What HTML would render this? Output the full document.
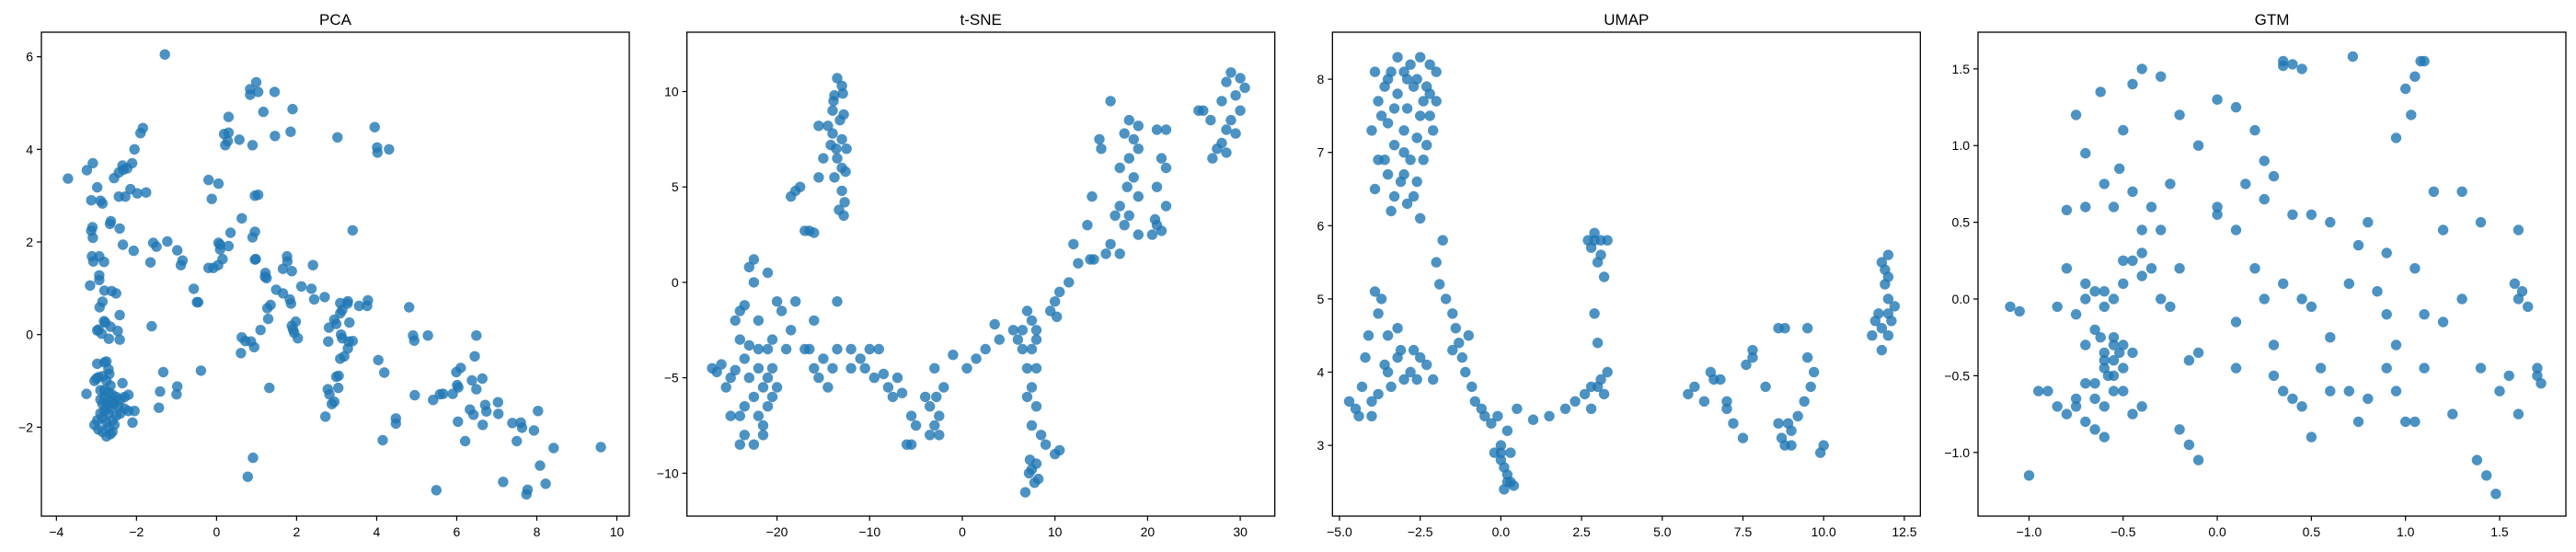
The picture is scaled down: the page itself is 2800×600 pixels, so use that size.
<!DOCTYPE html>
<html>
<head>
<meta charset="utf-8">
<style>
  html, body { margin: 0; padding: 0; background: #fff; }
  svg { display: block; font-family: "Liberation Sans", "DejaVu Sans", sans-serif; }
</style>
</head>
<body>
<svg id="fig" width="2800" height="600" viewBox="0 0 2800 600" xmlns="http://www.w3.org/2000/svg"></svg>
<script>
// ---------- data ----------
const panelTitles = ["PCA", "t-SNE", "UMAP", "GTM"];

const pcaX = [-1.29,0.99,0.84,0.84,1.04,1.45,1.9,1.17,0.3,0.19,0.3,0.22,0.28,0.57,0.9,1.46,1.85,3.02,3.95,4.01,4.02,4.31,-3.71,-3.24,-3.09,-2.98,-3.13,-2.9,-2.85,-2.56,-2.44,-2.35,-2.33,-2.23,-2.11,-2.05,-1.9,-1.84,-2.44,-2.28,-2.15,-1.98,-1.76,-0.2,0.05,-0.12,0.63,0.96,1.04,0.35,0.96,0.9,3.4,-3.13,-3.1,-3.09,-2.64,-2.66,-2.42,-2.34,-2.07,-3.11,-2.93,-3.08,-2.81,-3.16,-2.93,-2.93,-1.58,-1.5,-1.23,-0.98,-0.85,-0.89,-1.65,0.09,0.09,0.05,0.3,0.15,0.04,-0.2,-0.08,0.96,0.98,1.22,1.25,1.21,1.76,1.77,1.66,1.88,2.41,-0.57,-0.46,-0.49,1.49,1.66,1.83,1.86,2.12,2.37,2.44,2.7,1.27,1.35,1.29,1.1,1.88,1.91,1.94,1.98,2.03,2.94,2.99,2.81,3.09,3.14,3.28,3.27,3.32,3.09,3.56,3.78,3.76,3.11,3.14,3.3,3.4,3.28,3.09,3.19,2.79,4.81,4.91,4.94,5.28,6.49,6.45,0.63,0.72,0.86,0.94,0.61,-1.62,-2.42,-2.95,-2.98,-2.81,-2.78,-2.65,-2.47,-2.42,-2.69,-2.87,-2.8,-2.62,-2.51,-2.85,-2.92,4.04,4.19,-0.39,-1.33,-0.98,-1.0,-1.41,-1.44,1.32,2.99,3.05,3.04,2.78,2.82,2.88,2.94,2.72,4.48,4.48,4.15,4.95,5.99,6.1,6.01,6.04,6.38,6.49,6.64,5.41,5.58,5.66,5.9,6.33,6.42,6.03,6.65,6.71,6.74,7.03,7.04,6.21,7.39,7.6,7.63,7.5,7.93,8.03,8.42,9.6,8.08,7.16,5.49,7.77,7.74,8.22,0.91,0.78,-3.25,-3.0,-2.95,-3.05,-2.8,-2.75,-2.7,-2.68,-2.98,-2.85,-2.75,-2.65,-2.8,-2.7,-2.6,-2.5,-2.4,-2.3,-2.2,-2.35,-2.9,-2.85,-2.75,-2.65,-2.55,-2.45,-2.3,-2.2,-2.05,-2.1,-2.4,-2.55,-2.6,-2.65,-2.75,-2.85,-2.95,-3.05,-2.98,-2.85,-2.75,-2.7,-2.8,-2.9,-2.7,-2.6,-2.5,-2.8,-2.9,-2.7,-2.6];
const pcaY = [6.05,5.45,5.3,5.18,5.24,5.24,4.87,4.81,4.7,4.33,4.36,4.09,4.18,4.21,4.09,4.29,4.38,4.26,4.48,4.04,3.93,4.0,3.37,3.55,3.7,3.18,2.9,2.89,2.83,3.38,3.5,3.65,3.56,3.59,3.7,4.0,4.35,4.46,2.98,2.98,3.14,3.05,3.07,3.34,3.26,2.93,2.51,3.0,3.02,2.2,2.22,2.1,2.25,2.24,2.32,2.09,2.45,2.39,2.29,1.94,1.81,1.69,1.69,1.58,1.57,1.06,1.28,1.18,1.98,1.9,2.01,1.82,1.6,1.5,1.56,1.94,1.84,1.98,1.91,1.63,1.5,1.44,1.44,1.62,1.63,1.33,1.22,1.25,1.69,1.58,1.42,1.37,1.5,0.99,0.7,0.7,0.97,0.89,0.76,0.67,1.04,0.99,0.76,0.81,0.57,0.64,0.34,0.1,0.19,0.11,0.04,0.28,-0.08,0.32,0.23,0.15,0.46,0.53,0.72,0.67,0.26,0.68,0.62,0.74,0.62,0,-0.08,-0.15,-0.14,-0.3,-0.52,-0.47,-0.15,0.59,-0.02,-0.13,-0.02,-0.02,-0.47,-0.06,-0.14,-0.15,-0.27,-0.4,0.18,0.42,0.11,0.09,0.29,0.26,0.17,0.08,-0.11,-0.09,0.02,0.95,0.94,0.89,0.71,0.59,-0.55,-0.82,-0.78,-0.81,-1.12,-1.29,-1.23,-1.58,-1.15,-0.91,-0.89,-1.15,-1.18,-1.29,-1.5,-1.45,-1.77,-1.81,-1.92,-2.28,-1.31,-0.81,-0.72,-1.09,-1.14,-0.99,-1.18,-0.95,-1.41,-1.29,-1.28,-1.28,-1.62,-1.73,-1.88,-1.95,-1.52,-1.66,-1.46,-1.71,-2.3,-1.91,-1.9,-2.01,-2.3,-2.07,-1.65,-2.45,-2.43,-2.83,-3.18,-3.36,-3.35,-3.45,-3.22,-2.66,-3.07,-1.28,-0.95,-0.92,-1.0,-0.6,-0.58,-0.75,-0.85,-0.63,-0.9,-1.0,-1.1,-1.2,-1.25,-1.3,-1.35,-1.4,-1.35,-1.3,-1.05,-1.4,-1.5,-1.55,-1.6,-1.5,-1.55,-1.6,-1.65,-1.65,-1.9,-1.7,-1.95,-2.1,-2.15,-2.2,-2.1,-2.05,-1.95,-1.85,-1.8,-1.9,-1.7,-1.65,-1.7,-2.0,-1.85,-1.75,-1.35,-1.2,-1.45,-1.45];

const tsneX = [-13.5,-13,-13.8,-14,-13.2,-12.8,-14.5,-14,-13,-12.5,-13.5,-13,-12.6,-13.8,-13,-12.7,-13.3,-12.8,-14.2,-13.6,-13.9,-12.9,-15.5,-15,-15.5,-16,-16.5,-17,-18.5,-18,-17.5,29,30,28.5,30.5,29.5,28,30,29,28.5,29.5,28,27.5,28.5,27,26,25.5,26.8,18,19,18.5,17.5,16,19,18,17,18.5,17.8,19,17,18,16.5,17.5,19,16,15.5,21,22,21.5,21,22,21,20.5,21.5,20.8,22,15,14.8,14,13.5,12,12.5,11.5,10.5,10,9.5,10.2,13.8,14.2,17,7.5,8,7,6.5,8,7.5,6,5.5,6.5,7,8,7.5,3.5,4,2.5,1.5,0.5,-1,-3,-2,-3.5,-4,-2.5,-3,-2.5,-3.5,-5.5,-6,-5,-5.5,-2.8,7,8,7.5,8.5,8,7.5,8.2,7.8,7.2,6.8,9,10,10.5,7.3,-13.5,-13.5,-12,-11,-10,-9,-10.5,-12,-9.5,-8.5,-8,-7,-6.5,-7.5,-14,-15,-15.5,-16,-14.5,-16.5,-17,-19,-18.5,-19.5,-18,-16,-27,-26.5,-26,-25,-24.5,-25.5,-24,-24.5,-24,-23.5,-22.5,-23,-22.5,-21,-20,-20.5,-21,-22,-23,-22,-23,-21.5,-22.5,-21,-23.5,-22,-24,-23.5,-22.5,-21.5,-24,-20.5,-20,-21,-23.5,-22,-25,-21.5,-20.5];
const tsneY = [10.7,10.3,9.8,9,8.5,8.8,8.2,7.8,7.5,7,6.5,6,5.8,5.5,4.8,4.2,3.8,3.5,7.2,7,9.5,9.9,8.2,6.5,5.5,2.6,2.7,2.7,4.5,4.8,5,11,10.7,10.5,10.2,9.8,9.5,9,8.5,8,7.8,7.3,7,6.8,6.5,9,9,8.5,8.5,8.2,7.5,7.8,9.5,7,6.5,6,5.5,5,4.5,4,3.5,3.5,3,2.5,2,1.5,8,8,6.5,5,4,3,2.5,2.7,3.3,6,7,7.5,4.5,3,2,1,0,-0.5,-1,-1.5,-1.8,1.2,1.2,1.5,-2,-2.5,-1.5,-2.5,-3,-3.5,-3,-2.5,-3.5,-4.5,-4.5,-5.5,-2.2,-3,-3.5,-4,-4.5,-3.8,-4.5,-5.5,-6.5,-6,-7,-7.5,-8,-8,-8.5,-8.5,-7.5,-7,-6,-6,-6.5,-7.5,-8,-9.5,-9.8,-10.3,-10.5,-10,-11,-8.5,-9,-8.8,-9.3,-1,-3.5,-3.5,-4,-3.5,-3.5,-4.5,-4.5,-5,-4.8,-5.5,-5,-5.8,-6,-4.5,-4,-5,-4.5,-5.5,-3.5,-3.5,-3.5,-2.5,-1.5,-1,-2,-4.5,-4.7,-4.3,-5,-4.6,-5.5,-3,-2,-1.5,-1.2,0,0.8,1.2,0.5,-1,-3,-3.5,-3.5,-3.3,-4.5,-5,-5.5,-6,-6.5,-6.5,-7,-7,-8,-8.5,-8,-8.5,-4.5,-5.5,-5,-4,-2,-7,-7.5,-6];

const umapX = [-2.5,-2.2,-3,-3.5,-2,-2.7,-3.2,-3.8,-2.4,-2.9,-2.2,-3.5,-3,-4,-2.6,-2.1,-3.3,-3.8,-2.8,-2.4,-3.5,-3.1,-2.6,-3.9,-3.3,-2.7,-3.4,-2.5,-3.0,-2.3,-3.6,-3.9,-2.0,-3.2,-2.8,-1.8,-2,-1.9,-1.7,-1.5,-1.4,-1.3,-1.2,-1.1,-0.9,-0.8,-0.6,-0.5,-1.5,-1.0,-0.1,0,-0.2,0.1,0.2,0.3,0.1,0.4,0,0.3,0.5,0.2,-4.5,-4.7,-4.3,-4.0,-3.8,-3.5,-3.2,-2.8,-2.5,-3.5,-3.2,-3.8,-3.9,-4.2,-4.0,-3.0,-2.6,-2.3,-2.1,-3.4,1,1.5,2,2.3,2.6,3,3.2,2.8,3.3,3.0,2.9,3.2,3.0,2.7,2.9,3.3,2.8,3.1,5.8,6.0,6.5,6.3,7,7.2,7.5,7.8,7.6,8.2,8.6,8.8,9.5,8.6,8.8,9,9.4,9.6,9.5,10,9.9,8.7,7.0,6.8,9.2,11.5,11.7,12,12,11.8,12,11.8,12,12.2,11.9,11.6,12.1,-3.7,-2.9,-2.5,-3.3,-2.3,-3.6,-3.0,-2.9,-2.6,-3.4,-2.2,-4.4,-3.6,-3.1,-2.7,-4.1,-3.7,2.9,3.1,2.8,3.1,6.6,7.8,8.9,9.7,9.0,11.8,12.0,11.9,0.2,0.0,-0.3];
const umapY = [8.3,8.2,8.1,8,8.1,7.9,7.8,7.7,7.7,7.6,7.5,7.4,7.3,7.3,7.2,7.3,7.1,6.9,6.9,6.9,6.7,6.6,6.6,6.5,6.4,6.4,6.2,6.1,7.0,7.9,7.9,8.1,7.7,8.3,8.2,5.8,5.5,5.2,5.0,4.8,4.6,4.4,4.2,4.0,3.8,3.6,3.5,3.4,4.3,4.5,3.4,3.0,2.9,2.7,2.6,2.5,2.4,2.45,2.8,2.9,3.5,3.2,3.5,3.6,3.8,3.6,3.7,4.0,4.2,4.0,4.2,4.5,4.6,4.8,5.1,4.2,3.4,3.9,3.9,4.1,3.9,3.8,3.35,3.4,3.5,3.6,3.7,3.8,3.7,3.5,4.0,4.4,4.8,5.3,5.5,5.8,5.8,5.8,5.7,5.6,3.7,3.8,4.0,3.6,3.6,3.3,3.1,4.2,4.1,3.8,4.6,4.6,4.6,3.3,3.0,3.2,3.6,3.8,4.2,3,2.9,3.1,3.5,3.9,3.4,4.5,4.8,5.0,5.3,5.5,5.6,4.3,4.5,4.9,5.2,4.7,4.7,7.5,8.0,7.5,7.6,7.1,6.9,6.7,6.3,8.0,8.1,7.8,3.4,4.1,4.3,4.3,4.5,5.0,5.9,5.8,3.8,3.9,3.9,4.3,3.3,4.0,3.0,4.6,4.8,5.4,2.5,2.9,3.3];

const gtmX = [-0.75,-0.62,-0.5,-0.45,-0.4,-0.3,-0.2,-0.1,0.0,0.1,0.2,0.25,0.35,0.4,0.45,0.72,0.95,1.0,1.05,1.08,1.03,-0.7,-0.6,-0.52,-0.45,-0.55,-0.8,-0.7,-0.35,-0.3,-0.4,-0.25,0.0,0.1,0.15,0.3,0.25,0.4,0.5,0.6,0.75,0.8,0.9,1.15,1.3,1.4,1.6,1.2,-0.8,-0.7,-0.65,-0.6,-0.55,-0.5,-0.45,-0.4,-0.35,-0.3,-0.2,-0.25,-1.1,-1.05,-0.75,-0.85,0.2,0.25,0.35,0.45,0.5,0.7,0.85,0.9,1.05,1.1,1.2,1.3,1.58,1.62,1.65,1.6,0.1,-0.1,-0.15,-0.7,-0.65,-0.6,-0.55,-0.6,-0.55,-0.7,-0.65,-0.6,-0.75,-0.8,-0.9,-0.95,-0.85,-0.5,-0.45,-0.4,-0.7,-0.6,-0.65,-1.0,-0.2,-0.15,-0.1,0.1,0.3,0.35,0.4,0.45,0.5,0.55,0.6,0.7,0.75,0.8,0.9,0.95,1.0,1.05,1.1,1.25,1.4,1.5,1.55,1.6,1.7,1.72,1.7,1.38,1.43,1.48,0.95,0.6,0.3,-0.5,-0.55,-0.55,-0.6,-0.5,-0.58,-0.62,-0.52,-0.7,-0.6,-0.55,-0.65,-0.75,-0.45,-0.5,-0.4,0.35,1.1,0.0];
const gtmY = [1.2,1.35,1.1,1.4,1.5,1.45,1.2,1.0,1.3,1.25,1.1,0.9,1.55,1.53,1.5,1.58,1.05,1.37,1.45,1.55,1.2,0.95,0.75,0.85,0.7,0.6,0.58,0.6,0.6,0.45,0.45,0.75,0.6,0.45,0.75,0.8,0.65,0.55,0.55,0.5,0.35,0.5,0.3,0.7,0.7,0.5,0.45,0.45,0.2,0.1,0.05,-0.05,0.0,0.1,0.25,0.3,0.2,0.0,0.2,-0.05,-0.05,-0.08,-0.1,-0.05,0.2,0.0,0.1,0.0,-0.05,0.1,0.05,-0.1,0.2,-0.1,-0.15,0.0,0.1,0.05,-0.05,0.0,-0.15,-0.35,-0.4,-0.3,-0.2,-0.35,-0.25,-0.45,-0.5,-0.55,-0.65,-0.7,-0.7,-0.75,-0.6,-0.6,-0.7,-0.6,-0.75,-0.7,-0.8,-0.9,-0.85,-1.15,-0.85,-0.95,-1.05,-0.45,-0.5,-0.6,-0.65,-0.7,-0.9,-0.45,-0.6,-0.6,-0.8,-0.65,-0.45,-0.6,-0.8,-0.8,-0.45,-0.75,-0.45,-0.6,-0.5,-0.75,-0.5,-0.55,-0.45,-1.05,-1.15,-1.27,-0.3,-0.25,-0.3,-0.3,-0.4,-0.3,-0.4,-0.45,-0.5,-0.25,-0.35,0.0,0.05,-0.6,-0.55,-0.65,-0.35,0.25,0.15,1.52,1.55,0.55];

const pcaXTicks = [-4,-2,0,2,4,6,8,10];
const pcaYTicks = [-2,0,2,4,6];
const tsneXTicks = [-20,-10,0,10,20,30];
const tsneYTicks = [-10,-5,0,5,10];
const umapXTicks = [-5.0,-2.5,0.0,2.5,5.0,7.5,10.0,12.5];
const umapYTicks = [3,4,5,6,7,8];
const gtmXTicks = [-1.0,-0.5,0.0,0.5,1.0,1.5];
const gtmYTicks = [-1.0,-0.5,0.0,0.5,1.0,1.5];

// ---------- layout ----------
const NS = "http://www.w3.org/2000/svg";
const svg = document.getElementById("fig");
const axTop = 35, axBottom = 561, axW = 639;
const panels = [
  {title: panelTitles[0], xs: pcaX, ys: pcaY, xt: pcaXTicks, yt: pcaYTicks, xr: [-4.375, 10.31], yr: [-3.92, 6.53], dec: 0},
  {title: panelTitles[1], xs: tsneX, ys: tsneY, xt: tsneXTicks, yt: tsneYTicks, xr: [-29.72, 33.73], yr: [-12.25, 13.11], dec: 0},
  {title: panelTitles[2], xs: umapX, ys: umapY, xt: umapXTicks, yt: umapYTicks, xr: [-5.217, 12.996], yr: [2.034, 8.642], dec: 1, ydec: 0},
  {title: panelTitles[3], xs: gtmX, ys: gtmY, xt: gtmXTicks, yt: gtmYTicks, xr: [-1.271, 1.852], yr: [-1.415, 1.739], dec: 1, ydec: 1}
];
function mk(tag, attrs) {
  const e = document.createElementNS(NS, tag);
  for (const k in attrs) e.setAttribute(k, attrs[k]);
  return e;
}
function fmt(v, d) {
  const s = v.toFixed(d);
  return s.replace("-", "\u2212");
}
panels.forEach((p, i) => {
  const left = 45 + i * 701.67;
  const g = mk("g", {});
  
  
  svg.appendChild(g);
  const sx = v => left + (v - p.xr[0]) / (p.xr[1] - p.xr[0]) * axW;
  const sy = v => axBottom - (v - p.yr[0]) / (p.yr[1] - p.yr[0]) * (axBottom - axTop);

  const title = mk("text", {x: left + axW / 2, y: 27, "text-anchor": "middle", "font-size": "17", fill: "#000"});
  title.textContent = p.title;
  
  
  g.appendChild(title);

  const pts = mk("g", {fill: "#1f77b4", "fill-opacity": "0.8"});
  
  
  g.appendChild(pts);
  for (let k = 0; k < p.xs.length; k++) {
    const c = mk("circle", {cx: sx(p.xs[k]).toFixed(1), cy: sy(p.ys[k]).toFixed(1), r: 5.7});
    
    
    pts.appendChild(c);
  }

  const frame = mk("rect", {x: left, y: axTop, width: axW, height: axBottom - axTop, fill: "none", stroke: "#000", "stroke-width": 1.3});
  
  
  g.appendChild(frame);

  p.xt.forEach(t => {
    const x = sx(t);
    const tk = mk("line", {x1: x, x2: x, y1: axBottom, y2: axBottom + 5, stroke: "#000", "stroke-width": 1.2});
    
    
    g.appendChild(tk);
    const lb = mk("text", {x: x, y: axBottom + 22, "text-anchor": "middle", "font-size": "14", fill: "#000"});
    lb.textContent = fmt(t, p.dec);
    
    
    g.appendChild(lb);
  });
  p.yt.forEach(t => {
    const y = sy(t);
    const tk = mk("line", {x1: left - 5, x2: left, y1: y, y2: y, stroke: "#000", "stroke-width": 1.2});
    
    
    g.appendChild(tk);
    const lb = mk("text", {x: left - 9, y: y + 5, "text-anchor": "end", "font-size": "14", fill: "#000"});
    lb.textContent = fmt(t, p.ydec === undefined ? p.dec : p.ydec);
    
    
    g.appendChild(lb);
  });
});
</script>
</body>
</html>
